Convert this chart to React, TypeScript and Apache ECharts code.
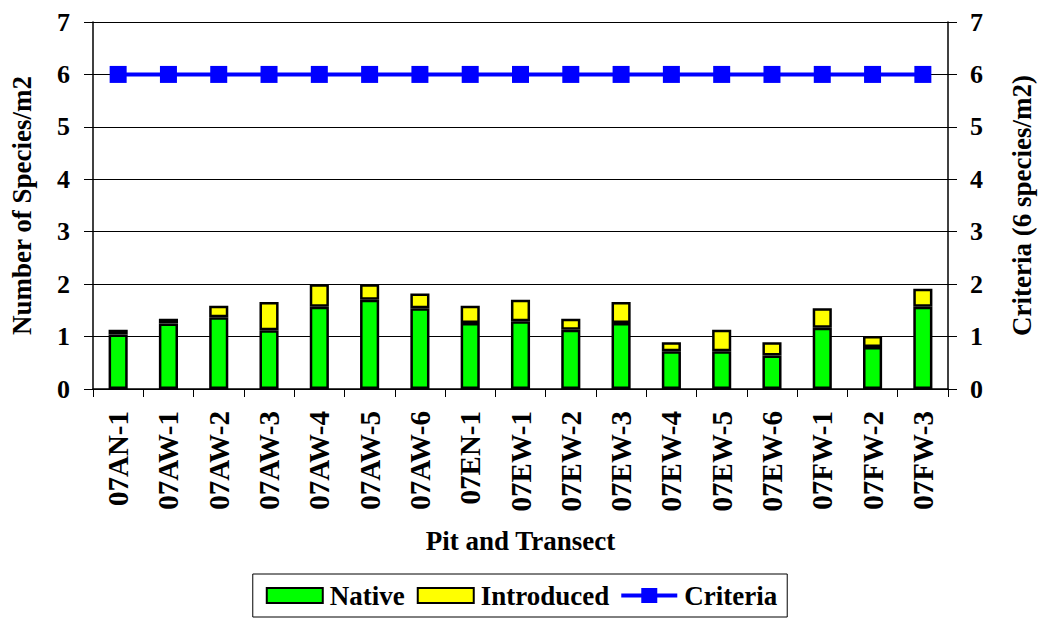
import React, { useEffect, useRef } from "react";
import * as echarts from "echarts";

const categories = ["07AN-1","07AW-1","07AW-2","07AW-3","07AW-4","07AW-5","07AW-6","07EN-1","07EW-1","07EW-2","07EW-3","07EW-4","07EW-5","07EW-6","07FW-1","07FW-2","07FW-3"];
const native = [1.04, 1.25, 1.37, 1.12, 1.57, 1.7, 1.54, 1.26, 1.29, 1.13, 1.26, 0.72, 0.72, 0.64, 1.17, 0.8, 1.57];
const introduced = [0.09, 0.09, 0.22, 0.54, 0.43, 0.3, 0.28, 0.33, 0.41, 0.21, 0.4, 0.17, 0.41, 0.25, 0.37, 0.21, 0.34];
const criteria = [6, 6, 6, 6, 6, 6, 6, 6, 6, 6, 6, 6, 6, 6, 6, 6, 6];

const FONT = "Liberation Serif";
const CRITERIA_ICON = "path://M0,5.5L20,5.5L20,0L36,0L36,5.5L56,5.5L56,9.5L36,9.5L36,15L20,15L20,9.5L0,9.5Z";

export default function App() {
  const ref = useRef<HTMLDivElement>(null);
  useEffect(() => {
    if (!ref.current) return;
    const chart = echarts.init(ref.current, null, { renderer: "svg" });
    const textBase = { fontFamily: FONT, fontWeight: "bold" as const, color: "#000" };
    chart.setOption({
      animation: false,
      backgroundColor: "#fff",
      textStyle: { fontFamily: FONT },
      grid: { left: 90, right: 80, top: 22, bottom: 229, containLabel: false },
      legend: {
        bottom: 1,
        left: "center",
        padding: [8, 10, 8, 13],
        borderColor: "#000",
        borderWidth: 1,
        itemGap: 12,
        itemWidth: 56,
        itemHeight: 15,
        textStyle: { ...textBase, fontSize: 27, padding: [0, 0, 0, 2] },
        data: [
          { name: "Native", icon: "rect" },
          { name: "Introduced", icon: "rect" },
          { name: "Criteria", icon: CRITERIA_ICON, itemStyle: { color: "#0000ff", borderWidth: 0 } },
        ],
      },
      xAxis: {
        type: "category",
        data: categories,
        name: "Pit and Transect",
        nameLocation: "middle",
        nameGap: 138,
        nameTextStyle: { ...textBase, fontSize: 27 },
        axisLine: { lineStyle: { color: "#000", width: 1.5 } },
        axisTick: { show: true, interval: 0, length: 8, lineStyle: { color: "#000" } },
        axisLabel: { ...textBase, fontSize: 29, rotate: 90, interval: 0, margin: 22 },
      },
      yAxis: [
        {
          type: "value",
          min: 0,
          max: 7,
          interval: 1,
          name: "Number of Species/m2",
          nameLocation: "middle",
          nameGap: 58,
          nameRotate: 90,
          nameTextStyle: { ...textBase, fontSize: 27 },
          axisLine: { show: true, lineStyle: { color: "#000", width: 1.5 } },
          axisTick: { show: true, length: 9, lineStyle: { color: "#000" } },
          axisLabel: { ...textBase, fontSize: 26, margin: 23 },
          splitLine: { show: true, lineStyle: { color: "#000", width: 1 } },
        },
        {
          type: "value",
          min: 0,
          max: 7,
          interval: 1,
          position: "right",
          name: "Criteria (6 species/m2)",
          nameLocation: "middle",
          nameGap: 60,
          nameRotate: 90,
          nameTextStyle: { ...textBase, fontSize: 27 },
          axisLine: { show: true, lineStyle: { color: "#000", width: 1.5 } },
          axisTick: { show: true, length: 9, lineStyle: { color: "#000" } },
          axisLabel: { ...textBase, fontSize: 26, margin: 22 },
          splitLine: { show: false },
        },
      ],
      series: [
        {
          name: "Native",
          type: "bar",
          stack: "s",
          data: native,
          barWidth: "38%",
          itemStyle: { color: "#00ff00", borderColor: "#000", borderWidth: 2.5 },
        },
        {
          name: "Introduced",
          type: "bar",
          stack: "s",
          data: introduced,
          barWidth: "38%",
          itemStyle: { color: "#ffff00", borderColor: "#000", borderWidth: 2.5 },
        },
        {
          name: "Criteria",
          type: "line",
          yAxisIndex: 0,
          data: criteria,
          symbol: "rect",
          symbolSize: 17,
          lineStyle: { color: "#0000ff", width: 4 },
          itemStyle: { color: "#0000ff" },
        },
      ],
    });
    return () => chart.dispose();
  }, []);
  return <div ref={ref} style={{ width: 1043, height: 618, position: "absolute", left: 0, top: 0 }} />;
}
